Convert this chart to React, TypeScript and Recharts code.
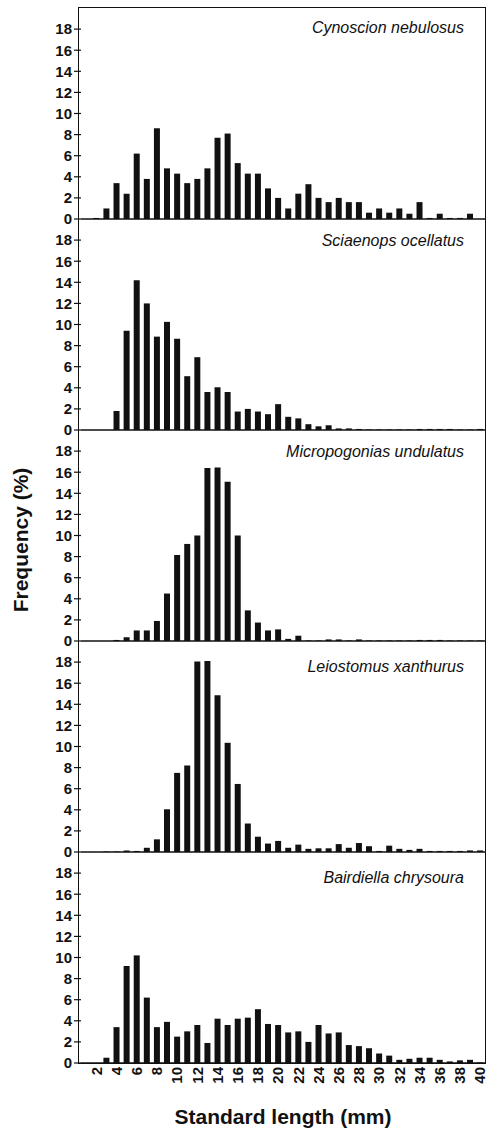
import { BarChart, Bar, XAxis, YAxis, ReferenceLine } from "recharts";

// standard length classes (mm)
const lengths = [
  1, 2, 3, 4, 5, 6, 7, 8, 9, 10, 11, 12, 13, 14, 15, 16, 17, 18, 19, 20,
  21, 22, 23, 24, 25, 26, 27, 28, 29, 30, 31, 32, 33, 34, 35, 36, 37, 38, 39, 40,
];

const yTicks = [0, 2, 4, 6, 8, 10, 12, 14, 16, 18];

const species = [
  "Cynoscion nebulosus",
  "Sciaenops ocellatus",
  "Micropogonias undulatus",
  "Leiostomus xanthurus",
  "Bairdiella chrysoura",
];

// frequency (%) per length class
const cynoscion = [
  0, 0.1, 1.0, 3.4, 2.4, 6.2, 3.8, 8.6, 4.8, 4.3, 3.4, 3.8, 4.8, 7.7, 8.1, 5.3, 4.3, 4.3, 2.9, 2.0,
  1.0, 2.4, 3.3, 2.0, 1.6, 2.0, 1.6, 1.6, 0.6, 1.0, 0.6, 1.0, 0.5, 1.6, 0.1, 0.5, 0.1, 0.1, 0.5, 0,
];
const sciaenops = [
  0, 0, 0, 1.8, 9.4, 14.2, 12.0, 8.85, 10.25, 8.65, 5.1, 6.9, 3.6, 4.05, 3.6, 1.75, 2.0, 1.75, 1.5, 2.45,
  1.25, 1.1, 0.55, 0.35, 0.45, 0.15, 0.15, 0.1, 0.05, 0.05, 0.05, 0.05, 0.05, 0.1, 0.1, 0.1, 0.1, 0.05, 0.05, 0.1,
];
const micropogonias = [
  0, 0, 0, 0.1, 0.35, 1.0, 1.0, 1.9, 4.5, 8.15, 9.2, 10.0, 16.4, 16.45, 15.1, 10.0, 2.9, 1.75, 1.0, 1.1,
  0.2, 0.5, 0.05, 0.05, 0.15, 0.15, 0.05, 0.15, 0.05, 0.05, 0.05, 0.05, 0.05, 0.1, 0.1, 0.1, 0.05, 0.05, 0.05, 0.05,
];
const leiostomus = [
  0, 0, 0.05, 0.05, 0.15, 0.1, 0.4, 1.2, 4.05, 7.5, 8.2, 18.05, 18.1, 14.85, 10.35, 6.45, 2.7, 1.45, 0.8, 1.05,
  0.4, 0.7, 0.3, 0.35, 0.35, 0.75, 0.4, 0.85, 0.55, 0.1, 0.6, 0.3, 0.2, 0.3, 0.1, 0.1, 0.1, 0.1, 0.15, 0.15,
];
const bairdiella = [
  0, 0, 0.5, 3.4, 9.2, 10.2, 6.2, 3.4, 3.9, 2.5, 3.0, 3.6, 1.9, 4.2, 3.6, 4.2, 4.3, 5.1, 3.7, 3.6,
  2.9, 3.0, 2.0, 3.6, 2.8, 2.9, 1.7, 1.6, 1.4, 0.9, 0.7, 0.3, 0.4, 0.5, 0.5, 0.3, 0.15, 0.25, 0.3, 0.05,
];

const series = [cynoscion, sciaenops, micropogonias, leiostomus, bairdiella];

const FONT = "'Liberation Sans', Arial, Helvetica, sans-serif";
const INK = "#111";
const PANEL_H = 211;
const FIRST_TOP = 8;
const PAD = 12;
const X_AXIS_H = 30;
const nameOffsets = [25, 27, 27, 31, 31];

function LengthTick(props: any) {
  const { x, y, payload } = props;
  if (payload.value % 2 !== 0) return <g />;
  return (
    <text
      x={x}
      y={y}
      transform={`rotate(-90 ${x} ${y})`}
      textAnchor="end"
      dominantBaseline="central"
      fill={INK}
      fontSize={15}
      fontWeight={700}
      fontFamily={FONT}
    >
      {payload.value}
    </text>
  );
}

function Panel({ values, index }: { values: number[]; index: number }) {
  const last = index === series.length - 1;
  const data = lengths.map((len, i) => ({ len, freq: values[i] }));
  const top = FIRST_TOP + PANEL_H * index;
  const height = last ? PAD + PANEL_H + X_AXIS_H : PANEL_H + 2 * PAD;

  return (
    <div style={{ position: "absolute", left: 0, top: top - PAD }}>
      <BarChart
        width={489}
        height={height}
        data={data}
        margin={{ top: PAD, right: 4, bottom: last ? 0 : PAD, left: 0 }}
        barCategoryGap="22%"
      >
        <XAxis
          dataKey="len"
          type="category"
          interval={0}
          hide={!last}
          height={X_AXIS_H}
          axisLine={false}
          tickLine={false}
          tickSize={0}
          tickMargin={4}
          tick={<LengthTick />}
        />
        <YAxis
          type="number"
          domain={[0, 20]}
          ticks={yTicks}
          interval={0}
          width={81}
          axisLine={false}
          tickSize={7}
          tickMargin={2}
          tickLine={{ stroke: INK, strokeWidth: 1.2 }}
          tick={{ fill: INK, fontSize: 15, fontWeight: 700, fontFamily: FONT }}
        />
        <Bar dataKey="freq" fill={INK} isAnimationActive={false} />
        <ReferenceLine y={0} stroke={INK} strokeWidth={1.6} />
      </BarChart>
    </div>
  );
}

export default function App() {
  return (
    <div
      style={{
        position: "absolute",
        left: 0,
        top: 0,
        width: 489,
        height: 1130,
        background: "#fff",
        fontFamily: FONT,
        color: INK,
      }}
    >
      {series.map((values, i) => (
        <Panel key={species[i]} values={values} index={i} />
      ))}

      {/* frame around the stacked panels */}
      <div
        style={{
          position: "absolute",
          left: 78,
          top: 7,
          width: 408,
          height: FIRST_TOP + PANEL_H * 5 - 7 + 1,
          border: `1.5px solid ${INK}`,
          boxSizing: "border-box",
          pointerEvents: "none",
        }}
      />

      {species.map((name, i) => (
        <div
          key={name}
          style={{
            position: "absolute",
            left: 0,
            width: 464,
            top: FIRST_TOP + PANEL_H * i + nameOffsets[i] - 13.5,
            textAlign: "right",
            fontStyle: "italic",
            fontSize: 16,
            lineHeight: "16px",
            whiteSpace: "nowrap",
          }}
        >
          {name}
        </div>
      ))}

      <div
        style={{
          position: "absolute",
          left: 20.5 - 100,
          top: 540 - 12,
          width: 200,
          height: 24,
          lineHeight: "24px",
          textAlign: "center",
          fontSize: 21,
          fontWeight: 700,
          transform: "rotate(-90deg)",
          whiteSpace: "nowrap",
        }}
      >
        Frequency (%)
      </div>

      <div
        style={{
          position: "absolute",
          left: 133,
          top: 1105.5,
          width: 300,
          lineHeight: "21px",
          textAlign: "center",
          fontSize: 21,
          fontWeight: 700,
          whiteSpace: "nowrap",
        }}
      >
        Standard length (mm)
      </div>
    </div>
  );
}
